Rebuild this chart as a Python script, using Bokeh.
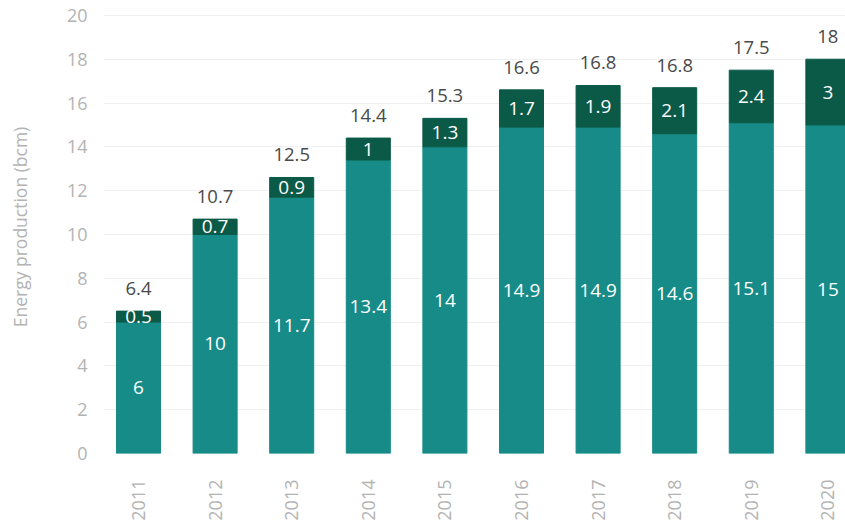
import math
from bokeh.plotting import figure
from bokeh.models import ColumnDataSource, Range1d, FixedTicker, LabelSet
from bokeh.core.properties import value
from bokeh.embed import file_html
from bokeh.resources import INLINE

years = ["2011", "2012", "2013", "2014", "2015", "2016", "2017", "2018", "2019", "2020"]
base = [6, 10, 11.7, 13.4, 14, 14.9, 14.9, 14.6, 15.1, 15]
extra = [0.5, 0.7, 0.9, 1, 1.3, 1.7, 1.9, 2.1, 2.4, 3]
totals = [6.4, 10.7, 12.5, 14.4, 15.3, 16.6, 16.8, 16.8, 17.5, 18]
y_ticks = [0, 2, 4, 6, 8, 10, 12, 14, 16, 18, 20]

BASE_C = "#178b87"
EXTRA_C = "#0b5a47"
FONT = "Open Sans"

idx = list(range(len(years)))
top = [b + e for b, e in zip(base, extra)]
src = ColumnDataSource(dict(
    x=idx, base=base, top=top,
    base_mid=[b / 2 for b in base],
    extra_mid=[b + e / 2 for b, e in zip(base, extra)],
    base_lbl=[f"{v:g}" for v in base],
    extra_lbl=[f"{v:g}" for v in extra],
    tot_lbl=[f"{v:g}" for v in totals],
))

p = figure(width=845, height=523, output_backend="svg", toolbar_location=None,
           x_range=Range1d(-0.457, 9.23), y_range=Range1d(0, 20.68),
           min_border_left=103, min_border_right=0, min_border_top=0, min_border_bottom=70)
p.outline_line_color = None
p.background_fill_color = "white"
p.border_fill_color = "white"

W = 0.575
p.vbar(x="x", bottom=0, top="base", width=W, source=src, fill_color=BASE_C, line_color=BASE_C)
p.vbar(x="x", bottom="base", top="top", width=W, source=src, fill_color=EXTRA_C, line_color=EXTRA_C)

lbl_kw = dict(text_font=value(FONT), text_font_size="19px", text_align="center", text_baseline="middle")
p.add_layout(LabelSet(x="x", y="base_mid", text="base_lbl", source=src, text_color="white", **lbl_kw))
p.add_layout(LabelSet(x="x", y="extra_mid", text="extra_lbl", source=src, text_color="white", **lbl_kw))
p.add_layout(LabelSet(x="x", y="top", text="tot_lbl", source=src, text_color="#4a4a4a",
                      text_font=value(FONT), text_font_size="18.5px", text_align="center",
                      text_baseline="alphabetic", y_offset=16))

p.xgrid.grid_line_color = None
p.ygrid.grid_line_color = "#f0f0f0"
p.ygrid.ticker = FixedTicker(ticks=y_ticks)

p.yaxis.ticker = FixedTicker(ticks=y_ticks)
p.yaxis.axis_line_color = None
p.yaxis.major_tick_line_color = None
p.yaxis.minor_tick_line_color = None
p.yaxis.major_label_text_font = FONT
p.yaxis.major_label_text_font_size = "18px"
p.yaxis.major_label_text_color = "#b3b3b3"
p.yaxis.major_label_standoff = 10
p.yaxis.axis_label = "Energy production (bcm)"
p.yaxis.axis_label_text_font = FONT
p.yaxis.axis_label_text_font_size = "17.5px"
p.yaxis.axis_label_text_font_style = "normal"
p.yaxis.axis_label_text_color = "#b3b3b3"
p.yaxis.axis_label_standoff = 32

p.xaxis.ticker = FixedTicker(ticks=idx)
p.xaxis.major_label_overrides = {i: y for i, y in zip(idx, years)}
p.xaxis.major_label_orientation = math.pi / 2
p.xaxis.axis_line_color = None
p.xaxis.major_tick_line_color = None
p.xaxis.minor_tick_line_color = None
p.xaxis.major_label_text_font = FONT
p.xaxis.major_label_text_font_size = "18px"
p.xaxis.major_label_text_color = "#b3b3b3"
p.xaxis.major_label_standoff = 20

open("out.html", "w").write(file_html(p, INLINE))
